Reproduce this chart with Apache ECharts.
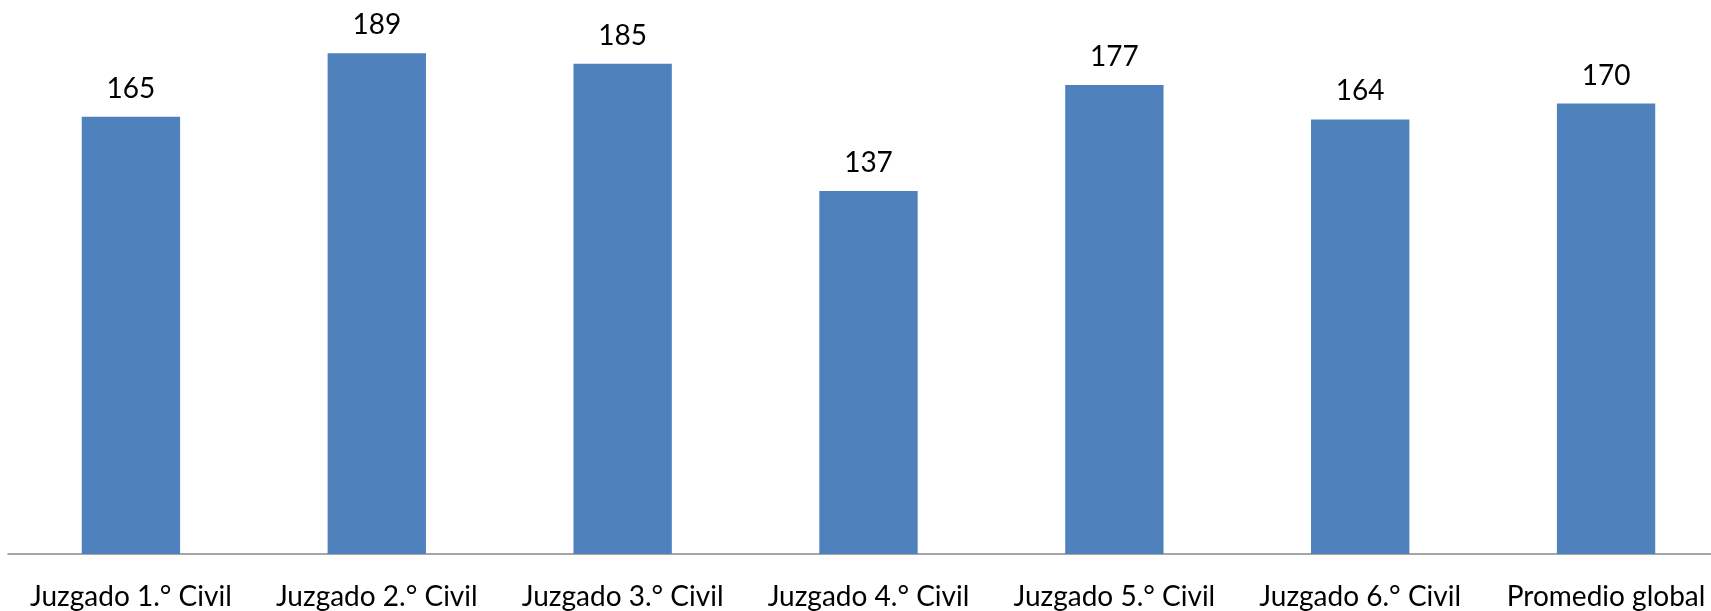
<!DOCTYPE html>
<html><head><meta charset="utf-8">
<script src="https://cdn.jsdelivr.net/npm/echarts@6/dist/echarts.min.js"></script>
<style>html,body{margin:0;padding:0;background:#fff;width:1711px;height:611px;overflow:hidden}#c{width:1729px;height:611px}</style>
</head><body><div id="c"></div>
<script>
const categories = ['Juzgado 1.° Civil','Juzgado 2.° Civil','Juzgado 3.° Civil','Juzgado 4.° Civil','Juzgado 5.° Civil','Juzgado 6.° Civil','Promedio global'];
const values = [165, 189, 185, 137, 177, 164, 170];
const chart = echarts.init(document.getElementById('c'));
chart.setOption({
  animation: false,
  grid: {left: 8, top: 24, right: 0, bottom: 54, containLabel: false},
  xAxis: {
    type: 'category', data: categories,
    axisLine: {lineStyle: {color: '#898989', width: 1.5}},
    axisTick: {show: false},
    axisLabel: {color: '#000', fontFamily: 'Lato', fontSize: 28, margin: 29, interval: 0}
  },
  yAxis: {type: 'value', min: 0, max: 200, show: false, splitLine: {show: false}},
  series: [{
    type: 'bar', data: values, barWidth: '40%',
    itemStyle: {color: '#4F81BD'},
    label: {show: true, position: 'top', distance: 14, color: '#000', fontFamily: 'Lato', fontSize: 28}
  }]
});
</script></body></html>
